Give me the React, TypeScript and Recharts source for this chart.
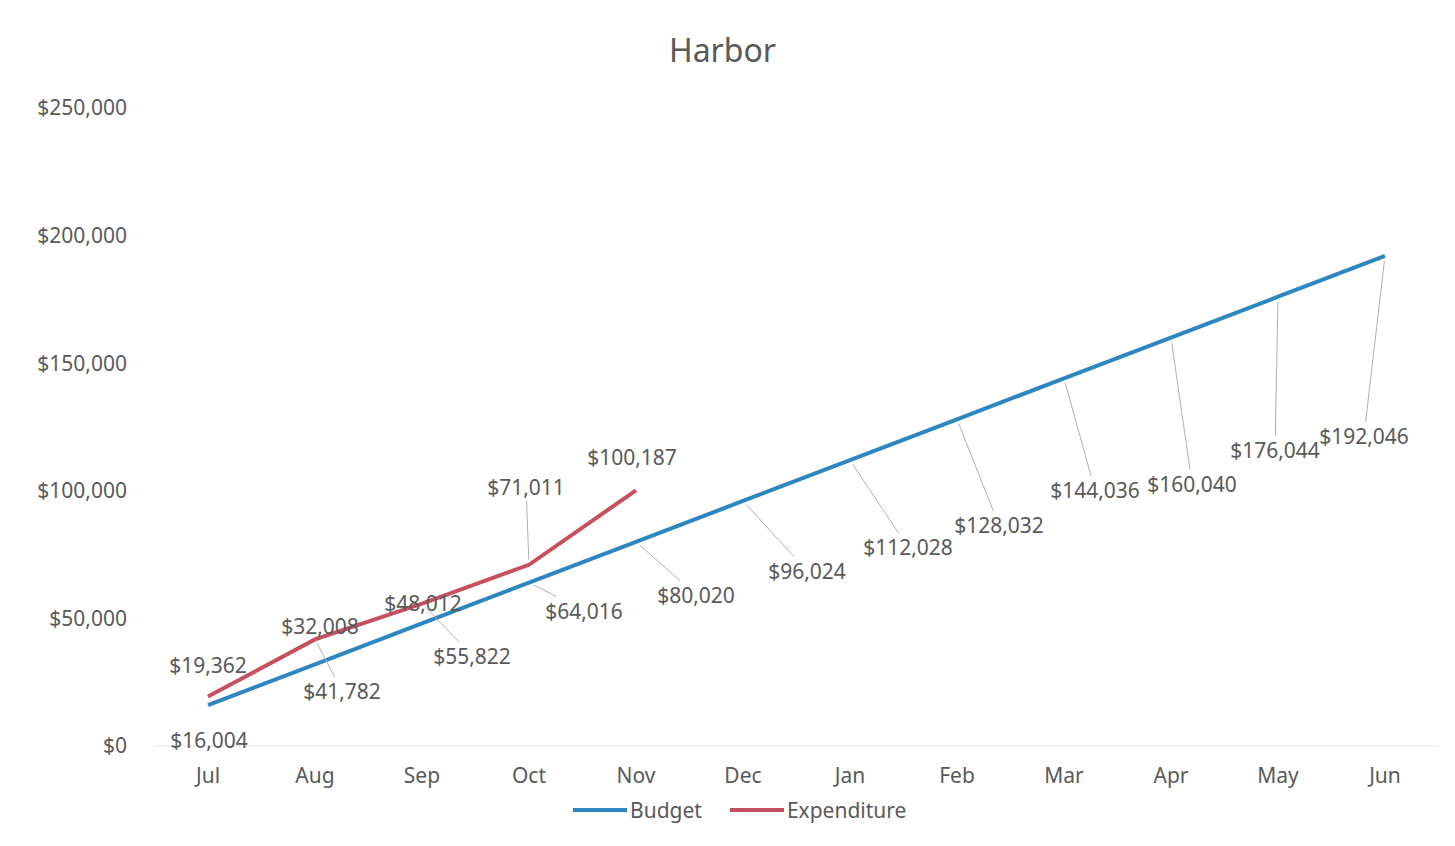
import React from "react";
import {
  LineChart,
  Line,
  XAxis,
  YAxis,
  LabelList,
} from "recharts";

const months = ["Jul", "Aug", "Sep", "Oct", "Nov", "Dec", "Jan", "Feb", "Mar", "Apr", "May", "Jun"];
const budget = [16004, 32008, 48012, 64016, 80020, 96024, 112028, 128032, 144036, 160040, 176044, 192046];
const expenditure = [19362, 41782, 55822, 71011, 100187];
const yTicks = [0, 50000, 100000, 150000, 200000, 250000];

// where Excel put each data label, relative to its point (label centre)
const budgetLabelOffsets: [number, number][] = [
  [1, 35], [5, -38], [1, -20], [55, 28], [60, 53], [64, 70],
  [58, 87], [42, 106], [31, 112], [21, 146], [-3, 153], [-21, 180],
];
const expLabelOffsets: [number, number][] = [
  [0, -32], [27, 52], [50, 52], [-3, -78], [-4, -33],
];

const data = months.map((m, i) => ({
  month: m,
  budget: budget[i],
  expenditure: i < expenditure.length ? expenditure[i] : null,
}));

const BLUE = "#2e86c1";
const RED = "#c7505f";
const TEXT = "#595959";
const FONT = "'Noto Sans', 'Open Sans', sans-serif";
const FS = 21;

const money = (v: number) => "$" + v.toLocaleString("en-US");

function makeLabel(offsets: [number, number][]) {
  return (props: any) => {
    const { x, y, value, index } = props;
    if (value == null || x == null || y == null) return null;
    const [dx, dy] = offsets[index] || [0, -20];
    const cx = x + dx;
    const cy = y + dy;
    const text = money(value);
    const hw = (text.length * 12) / 2 + 3;
    const hh = 14;
    const dist = Math.sqrt(dx * dx + dy * dy);
    let leader = null;
    if (dist > 40) {
      // stop the leader at the edge of the label box
      const t = Math.min(dx !== 0 ? hw / Math.abs(dx) : Infinity, dy !== 0 ? hh / Math.abs(dy) : Infinity);
      const ex = cx - t * dx;
      const ey = cy - t * dy;
      const sx = x + (dx / dist) * 5;
      const sy = y + (dy / dist) * 5;
      leader = <line x1={sx} y1={sy} x2={ex} y2={ey} stroke="#b0b0b0" strokeWidth={1} />;
    }
    return (
      <g key={`lbl-${index}`}>
        {leader}
        <text
          x={cx}
          y={cy}
          textAnchor="middle"
          dominantBaseline="central"
          fontSize={FS}
          fontFamily={FONT}
          fill={TEXT}
        >
          {text}
        </text>
      </g>
    );
  };
}

const legendItems = [
  { name: "Budget", color: BLUE },
  { name: "Expenditure", color: RED },
];

export default function App() {
  return (
    <div style={{ position: "relative", width: 1455, height: 846, background: "#fff", fontFamily: FONT }}>
      <style>{`body{margin:0}`}</style>
      <div
        style={{
          position: "absolute",
          top: 28,
          left: 0,
          width: 1445,
          textAlign: "center",
          fontSize: 32,
          color: TEXT,
        }}
      >
        Harbor
      </div>
      <LineChart
        width={1455}
        height={846}
        data={data}
        margin={{ top: 108, right: 16, left: 0, bottom: 0 }}
      >
        <XAxis
          dataKey="month"
          padding={{ left: 54, right: 54 }}
          height={100}
          tickLine={false}
          tickSize={0}
          tickMargin={22}
          axisLine={{ stroke: "#e4e4e4" }}
          tick={{ fill: TEXT, fontSize: FS, fontFamily: FONT }}
        />
        <YAxis
          width={154}
          domain={[0, 250000]}
          ticks={yTicks}
          tickFormatter={money}
          axisLine={false}
          tickLine={false}
          tickSize={0}
          tickMargin={27}
          tick={{ fill: TEXT, fontSize: FS, fontFamily: FONT }}
        />
        <Line
          dataKey="budget"
          stroke={BLUE}
          strokeWidth={4}
          dot={false}
          type="linear"
          isAnimationActive={false}
        >
          <LabelList dataKey="budget" content={makeLabel(budgetLabelOffsets)} />
        </Line>
        <Line
          dataKey="expenditure"
          stroke={RED}
          strokeWidth={4}
          dot={false}
          type="linear"
          isAnimationActive={false}
        >
          <LabelList dataKey="expenditure" content={makeLabel(expLabelOffsets)} />
        </Line>
      </LineChart>
      <div
        style={{
          position: "absolute",
          top: 796,
          left: 573,
          display: "flex",
          alignItems: "center",
          fontSize: FS,
          color: TEXT,
        }}
      >
        {legendItems.map((it, i) => (
          <div key={it.name} style={{ display: "flex", alignItems: "center", marginRight: i === 0 ? 28 : 0 }}>
            <svg width={54} height={28}>
              <line x1={0} y1={14} x2={54} y2={14} stroke={it.color} strokeWidth={4} />
            </svg>
            <span style={{ marginLeft: 3 }}>{it.name}</span>
          </div>
        ))}
      </div>
    </div>
  );
}
